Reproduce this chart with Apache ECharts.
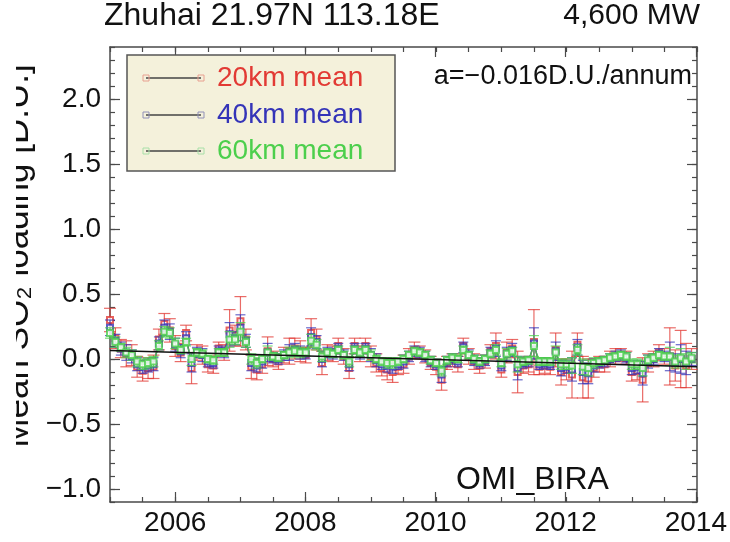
<!DOCTYPE html>
<html><head><meta charset="utf-8">
<script src="https://cdn.jsdelivr.net/npm/echarts@6/dist/echarts.min.js"></script>
<style>html,body{margin:0;padding:0;background:#fff}#c{width:730px;height:542px}</style>
</head><body><div id="c"></div>
<script>
// ---- data (monthly means, Jan 2005 .. Dec 2013) ----
const startYear = 2005;
const red20 = [0.30,0.16,0.08,0.04,0.03,-0.06,-0.09,-0.07,-0.06,0.15,0.27,0.22,
0.10,0.05,0.20,-0.07,0.05,0.03,-0.04,-0.05,0.08,0.05,0.22,0.18,
0.29,0.15,-0.06,-0.08,-0.04,0.06,0.00,-0.02,0.03,0.06,0.08,0.06,
0.03,0.20,0.15,-0.03,0.05,0.04,0.10,0.02,-0.07,0.10,0.04,0.10,
0.02,-0.03,-0.07,-0.08,-0.10,-0.06,-0.04,0.02,0.07,0.05,0.02,-0.03,
-0.06,-0.16,-0.03,-0.01,-0.04,0.10,0.02,-0.02,-0.05,-0.02,0.06,0.10,
-0.08,0.05,0.08,-0.10,-0.05,-0.04,0.13,-0.06,-0.05,-0.06,0.07,-0.10,
-0.08,-0.12,0.11,-0.14,-0.15,-0.07,-0.04,-0.04,0.00,0.02,0.03,0.01,
-0.10,-0.09,-0.16,-0.03,0.00,0.05,0.02,0.02,-0.05,0.00,-0.05,0.00];
const red20Err = [0.09,0.08,0.07,0.10,0.08,0.08,0.08,0.08,0.09,0.08,0.08,0.09,
0.08,0.07,0.06,0.12,0.06,0.07,0.06,0.06,0.05,0.06,0.16,0.08,
0.19,0.08,0.09,0.08,0.07,0.11,0.06,0.06,0.06,0.10,0.08,0.08,
0.06,0.11,0.08,0.09,0.06,0.06,0.06,0.06,0.08,0.06,0.06,0.06,
0.08,0.07,0.06,0.08,0.08,0.06,0.07,0.06,0.06,0.05,0.05,0.05,
0.06,0.08,0.05,0.05,0.06,0.06,0.06,0.06,0.06,0.05,0.05,0.10,
0.06,0.08,0.07,0.16,0.06,0.06,0.25,0.06,0.06,0.06,0.13,0.10,
0.08,0.18,0.09,0.16,0.15,0.07,0.06,0.06,0.06,0.06,0.05,0.05,
0.07,0.07,0.17,0.07,0.06,0.06,0.06,0.22,0.12,0.22,0.17,0.08];
const blue40 = [0.24,0.14,0.08,0.05,0.02,-0.04,-0.06,-0.05,-0.04,0.12,0.24,0.21,
0.11,0.06,0.16,-0.03,0.05,0.03,-0.02,-0.03,0.06,0.05,0.19,0.16,
0.24,0.14,-0.03,-0.05,-0.02,0.05,0.01,0.00,0.03,0.05,0.07,0.05,
0.04,0.17,0.13,0.00,0.05,0.04,0.08,0.03,-0.04,0.08,0.04,0.08,
0.03,-0.01,-0.04,-0.05,-0.06,-0.04,-0.02,0.02,0.06,0.05,0.02,-0.02,
-0.04,-0.12,-0.02,0.00,-0.02,0.09,0.03,-0.01,-0.03,-0.01,0.05,0.08,
-0.05,0.04,0.07,-0.07,-0.03,-0.02,0.12,-0.04,-0.03,-0.04,0.06,-0.07,
-0.06,-0.08,0.09,-0.10,-0.11,-0.05,-0.03,-0.02,0.00,0.02,0.03,0.01,
-0.07,-0.06,-0.11,-0.02,0.00,0.04,0.02,0.02,-0.03,0.00,-0.03,0.00];
const blue40Err = [0.06,0.05,0.05,0.06,0.05,0.05,0.05,0.05,0.05,0.05,0.06,0.06,
0.05,0.05,0.05,0.07,0.04,0.05,0.04,0.04,0.04,0.04,0.09,0.05,
0.10,0.05,0.06,0.05,0.05,0.07,0.04,0.04,0.04,0.06,0.05,0.05,
0.04,0.07,0.05,0.06,0.04,0.04,0.04,0.04,0.05,0.04,0.04,0.04,
0.05,0.05,0.04,0.05,0.05,0.04,0.05,0.04,0.04,0.04,0.04,0.04,
0.04,0.06,0.04,0.04,0.04,0.04,0.04,0.04,0.04,0.04,0.04,0.06,
0.04,0.05,0.05,0.09,0.04,0.04,0.12,0.04,0.04,0.04,0.07,0.06,
0.05,0.09,0.06,0.09,0.08,0.05,0.04,0.04,0.04,0.04,0.04,0.04,
0.05,0.05,0.09,0.05,0.04,0.04,0.04,0.11,0.07,0.11,0.09,0.05];
const green60 = [0.20,0.13,0.09,0.05,0.03,-0.02,-0.04,-0.03,-0.02,0.10,0.21,0.20,
0.12,0.07,0.13,0.00,0.05,0.04,0.00,-0.01,0.05,0.05,0.15,0.15,
0.21,0.13,0.00,-0.03,0.00,0.05,0.02,0.01,0.03,0.05,0.06,0.05,
0.05,0.14,0.11,0.02,0.05,0.04,0.07,0.03,-0.02,0.07,0.05,0.07,
0.03,0.00,-0.02,-0.03,-0.03,-0.02,0.00,0.03,0.06,0.05,0.03,-0.01,
-0.03,-0.09,-0.01,0.01,0.00,0.07,0.03,0.00,-0.02,0.00,0.04,0.07,
-0.03,0.04,0.06,-0.04,-0.02,-0.01,0.10,-0.02,-0.02,-0.02,0.05,-0.04,
-0.04,-0.05,0.07,-0.06,-0.07,-0.03,-0.02,-0.01,0.01,0.02,0.03,0.02,
-0.04,-0.04,-0.07,-0.01,0.01,0.03,0.02,0.02,-0.02,0.01,-0.02,0.01];
const green60Err = [0.04,0.04,0.03,0.04,0.04,0.04,0.04,0.04,0.04,0.04,0.04,0.04,
0.04,0.03,0.03,0.05,0.03,0.03,0.03,0.03,0.03,0.03,0.06,0.04,
0.07,0.04,0.04,0.04,0.03,0.05,0.03,0.03,0.03,0.04,0.04,0.04,
0.03,0.05,0.04,0.04,0.03,0.03,0.03,0.03,0.04,0.03,0.03,0.03,
0.04,0.03,0.03,0.04,0.04,0.03,0.03,0.03,0.03,0.03,0.03,0.03,
0.03,0.04,0.03,0.03,0.03,0.03,0.03,0.03,0.03,0.03,0.03,0.04,
0.03,0.04,0.03,0.06,0.03,0.03,0.08,0.03,0.03,0.03,0.05,0.04,
0.04,0.06,0.04,0.06,0.06,0.04,0.03,0.03,0.03,0.03,0.03,0.03,
0.04,0.04,0.06,0.04,0.03,0.03,0.03,0.07,0.05,0.07,0.06,0.04];
const trendYears = [2005, 2014];
const trendValues = [0.065, -0.06];
const seriesNames = ['20km mean', '40km mean', '60km mean'];
const xTickYears = [2006, 2008, 2010, 2012, 2014];
const titleLeft = 'Zhuhai 21.97N 113.18E';
const titleRight = '4,600 MW';
const slopeText = 'a=\u22120.016D.U./annum';
const sourceText = 'OMI_BIRA';
const yName = 'Mean SO\u2082 loading [D.U.]';

// ---- build ----
const months = red20.map((_, i) => startYear + i / 12);
const FONT = 'Liberation Sans';
const C_RED = '#e23a34', C_BLUE = '#3434b8', C_GREEN = '#4ccf4c';
const AX = '#4a4a4a';

function pts(vals) { return vals.map((v, i) => [months[i], v]); }
function errs(vals, e) { return vals.map((v, i) => [months[i], v - e[i], v + e[i]]); }
function errSeries(data, color, cap, z) {
  return {
    type: 'custom', xAxisIndex: 0, yAxisIndex: 0, z: z, silent: true,
    renderItem: function (params, api) {
      const lo = api.coord([api.value(0), api.value(1)]);
      const hi = api.coord([api.value(0), api.value(2)]);
      const st = { stroke: color, lineWidth: 1.2, opacity: 0.75 };
      return { type: 'group', children: [
        { type: 'line', shape: { x1: lo[0], y1: lo[1], x2: hi[0], y2: hi[1] }, style: st },
        { type: 'line', shape: { x1: lo[0] - cap, y1: lo[1], x2: lo[0] + cap, y2: lo[1] }, style: st },
        { type: 'line', shape: { x1: hi[0] - cap, y1: hi[1], x2: hi[0] + cap, y2: hi[1] }, style: st }
      ]};
    },
    data: data
  };
}
function lineSeries(name, data, color, z) {
  return {
    name: name, type: 'line', xAxisIndex: 0, yAxisIndex: 0, z: z, data: data,
    symbol: 'emptyRect', symbolSize: 6, showAllSymbol: true,
    lineStyle: { color: color, width: 1.4, opacity: 0.85 },
    itemStyle: { color: color, borderColor: color, borderWidth: 1, opacity: 0.8 }
  };
}

const L = 110, R = 33, T = 47, B = 40;
const plotW = 730 - L - R, plotH = 542 - T - B;
const pxPerYear = plotW / 9, pxPerUnit = plotH / 3.5;

const hidden = { show: false };
const tickStyle = { lineStyle: { color: AX, width: 1.2 } };

const option = {
  animation: false,
  backgroundColor: '#fff',
  grid: [
    { left: L, right: R, top: T, bottom: B },
    { left: L, right: R, top: T + 0.4 * pxPerUnit, bottom: B + 0.1 * pxPerUnit },
    { left: L + pxPerYear, right: R, top: T, bottom: B }
  ],
  xAxis: [
    { gridIndex: 0, type: 'value', position: 'bottom', min: 2005, max: 2014, interval: 0.5,
      axisLine: { show: true, onZero: false, lineStyle: { color: AX, width: 1.5 } },
      axisTick: Object.assign({ inside: true, length: 5 }, tickStyle), axisLabel: hidden, splitLine: hidden },
    { gridIndex: 0, type: 'value', position: 'top', min: 2005, max: 2014, interval: 0.5,
      axisLine: { show: true, onZero: false, lineStyle: { color: AX, width: 1.5 } },
      axisTick: Object.assign({ inside: true, length: 5 }, tickStyle), axisLabel: hidden, splitLine: hidden },
    { gridIndex: 1, type: 'value', min: 2005, max: 2014, show: false },
    { gridIndex: 2, type: 'value', position: 'bottom', min: xTickYears[0], max: xTickYears[xTickYears.length - 1], interval: 2,
      axisLine: { show: false, onZero: false }, splitLine: hidden,
      axisTick: Object.assign({ inside: true, length: 10 }, tickStyle),
      axisLabel: { fontFamily: FONT, fontSize: 28, color: '#111', margin: 7, formatter: v => String(Math.round(v)) } },
    { gridIndex: 2, type: 'value', position: 'top', min: xTickYears[0], max: xTickYears[xTickYears.length - 1], interval: 2,
      axisLine: { show: false, onZero: false }, splitLine: hidden,
      axisTick: Object.assign({ inside: true, length: 10 }, tickStyle), axisLabel: hidden }
  ],
  yAxis: [
    { gridIndex: 0, type: 'value', position: 'left', min: -1.1, max: 2.4, interval: 0.1,
      axisLine: { show: true, onZero: false, lineStyle: { color: AX, width: 1.5 } },
      axisTick: Object.assign({ inside: true, length: 5 }, tickStyle), axisLabel: hidden, splitLine: hidden },
    { gridIndex: 0, type: 'value', position: 'right', min: -1.1, max: 2.4, interval: 0.1,
      axisLine: { show: true, onZero: false, lineStyle: { color: AX, width: 1.5 } },
      axisTick: Object.assign({ inside: true, length: 5 }, tickStyle), axisLabel: hidden, splitLine: hidden },
    { gridIndex: 1, type: 'value', position: 'left', min: -1.0, max: 2.0, interval: 0.5,
      axisLine: { show: false, onZero: false }, splitLine: hidden,
      axisTick: Object.assign({ inside: true, length: 10 }, tickStyle),
      axisLabel: { fontFamily: FONT, fontSize: 28, color: '#111', margin: 9,
        formatter: v => (v < 0 ? '\u2212' : '') + Math.abs(v).toFixed(1) } },
    { gridIndex: 1, type: 'value', position: 'right', min: -1.0, max: 2.0, interval: 0.5,
      axisLine: { show: false, onZero: false }, splitLine: hidden,
      axisTick: Object.assign({ inside: true, length: 10 }, tickStyle), axisLabel: hidden },
    { gridIndex: 2, type: 'value', min: -1.1, max: 2.4, show: false }
  ],
  series: [
    errSeries(errs(red20, red20Err), C_RED, 6, 2),
    lineSeries(seriesNames[0], pts(red20), C_RED, 3),
    errSeries(errs(blue40, blue40Err), C_BLUE, 5, 4),
    lineSeries(seriesNames[1], pts(blue40), C_BLUE, 5),
    errSeries(errs(green60, green60Err), C_GREEN, 5, 6),
    lineSeries(seriesNames[2], pts(green60), C_GREEN, 7),
    { type: 'line', xAxisIndex: 0, yAxisIndex: 0, z: 8, symbol: 'none',
      data: trendYears.map((y, i) => [y, trendValues[i]]),
      lineStyle: { color: '#111', width: 1.6 } }
  ],
  graphic: []
};

// Texts and legend (decorations)
const g = option.graphic;
g.push({ type: 'text', left: 104, top: 0, style: { text: titleLeft, font: '32px "' + FONT + '"', fill: '#111' } });
g.push({ type: 'text', right: 30, top: 1, style: { text: titleRight, font: '30px "' + FONT + '"', fill: '#111' } });
g.push({ type: 'text', right: 38, top: 63, style: { text: slopeText, font: '27px "' + FONT + '"', fill: '#111' } });
g.push({ type: 'text', left: 456, top: 464, style: { text: sourceText, font: '32px "' + FONT + '"', fill: '#111' } });
g.push({ type: 'text', x: 18, y: 256, rotation: Math.PI / 2, z: 50,
  style: { text: yName, font: '35px "' + FONT + '"', fill: '#111', align: 'center', verticalAlign: 'middle' } });
g.push({ type: 'rect', shape: { x: 0, y: 30, width: 16, height: 440 }, style: { fill: '#fff' }, z: 60 });

const legBox = { x: 127, y: 55, w: 268, h: 116 };
g.push({ type: 'rect', shape: { x: legBox.x, y: legBox.y, width: legBox.w, height: legBox.h },
  style: { fill: '#f4f1db', stroke: '#555', lineWidth: 1.5 }, z: 100 });
const legColors = [C_RED, C_BLUE, C_GREEN];
const legSq = ['#e8a090', '#9090b8', '#a8e0a8'];
const rowY = [78, 115, 151];
seriesNames.forEach((nm, i) => {
  const y = rowY[i];
  g.push({ type: 'line', shape: { x1: 146, y1: y, x2: 201, y2: y }, style: { stroke: '#444', lineWidth: 1.3 }, z: 101 });
  [146, 201].forEach(xx => g.push({ type: 'rect', shape: { x: xx - 3, y: y - 3, width: 6, height: 6 },
    style: { fill: 'none', stroke: legSq[i], lineWidth: 1 }, z: 102 }));
  g.push({ type: 'text', x: 217, y: y, style: { text: nm, font: '28px "' + FONT + '"', fill: legColors[i], verticalAlign: 'middle' }, z: 102 });
});

const chart = echarts.init(document.getElementById('c'));
chart.setOption(option);
</script></body></html>
